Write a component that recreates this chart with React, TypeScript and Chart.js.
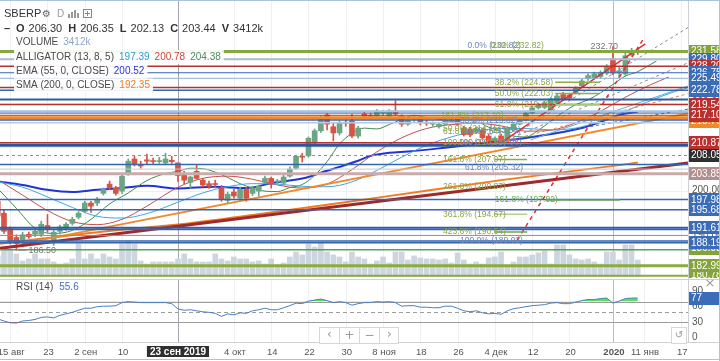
import React, { useEffect, useRef } from "react";
import { Chart, registerables } from "chart.js";

Chart.register(...registerables);

const FONT = '"Liberation Sans Narrow", "Liberation Sans", Arial, sans-serif';

/* ---------------- time axis ---------------- */
const tickIdx = [0, 6, 12, 18, 36, 42, 48, 54, 60, 66, 72, 78, 84, 90, 97, 102, 108];
const tickLabels = ["15 авг", "23", "2 сен", "10", "4 окт", "14", "22", "30", "8 ноя", "18", "26", "4 дек", "12", "20", "2020", "11 янв", "17"];
const crossIdx = 27;
const crossDate = "23 сен 2019";
const crossPrice = 208.05;
const yearIdx = 97;

/* ---------------- candles: bar -2 .. 101 ---------------- */
const opens = [
  197.6, 194.9, 191.4, 189.4, 188.9, 190.1, 190.1, 190.1, 192.1, 188.9,
  190.8, 191.5, 192.6, 194.0, 195.3, 197.2, 197.2, 199.4, 201.5, 200.6,
  199.9, 204.0, 207.2, 206.0, 207.0, 206.7, 206.6, 206.3, 206.9, 206.3,
  203.8, 201.9, 204.4, 202.4, 201.6, 201.5, 200.6, 197.8, 199.7, 198.3,
  200.3, 199.4, 199.9, 201.9, 202.8, 202.0, 201.7, 203.3, 205.1, 207.8,
  207.9, 210.8, 213.6, 217.2, 214.5, 213.1, 215.4, 215.8, 212.4, 217.4,
  217.0, 216.9, 217.6, 216.9, 218.1, 216.9, 215.1, 216.2, 216.5, 215.4,
  215.1, 214.5, 215.1, 215.8, 216.3, 214.2, 214.0, 213.3, 213.8, 212.4,
  211.3, 212.4, 211.5, 213.8, 215.1, 216.0, 217.6, 218.8, 218.9, 218.3,
  219.9, 221.8, 221.7, 222.2, 223.8, 225.4, 225.6, 225.9, 226.7, 229.9,
  226.7, 226.5, 230.8, 231.6,
];
const highs = [
  199.0, 195.8, 191.8, 190.0, 190.6, 190.6, 191.3, 193.1, 194.6, 191.0,
  192.2, 192.8, 194.0, 195.3, 197.6, 197.6, 198.5, 200.6, 202.2, 201.0,
  203.5, 207.2, 207.8, 206.7, 208.3, 207.4, 207.6, 208.5, 207.8, 206.35,
  204.4, 203.3, 205.8, 202.8, 202.2, 202.4, 201.2, 199.7, 200.3, 200.8,
  200.8, 201.0, 201.3, 203.3, 203.1, 202.6, 203.5, 205.4, 208.1, 208.5,
  212.2, 214.0, 217.0, 217.5, 215.4, 215.8, 216.0, 217.3, 214.6, 217.8,
  217.6, 218.4, 218.2, 218.4, 220.4, 217.2, 216.3, 216.9, 216.9, 216.0,
  215.6, 215.4, 216.3, 216.3, 216.7, 214.6, 214.4, 214.4, 214.2, 212.9,
  212.2, 212.9, 214.5, 215.4, 216.5, 218.0, 219.2, 219.9, 220.3, 221.1,
  221.9, 222.3, 222.1, 223.6, 225.3, 226.5, 226.9, 227.2, 228.6, 232.7,
  228.0, 231.5, 232.3, 232.5,
];
const lows = [
  193.8, 190.3, 187.9, 186.5, 187.2, 189.2, 189.6, 189.6, 190.6, 187.6,
  190.2, 191.0, 192.2, 193.6, 195.0, 195.1, 196.6, 199.0, 200.2, 199.0,
  199.4, 203.5, 205.6, 205.1, 206.0, 206.0, 206.2, 206.0, 206.2, 202.13,
  201.6, 200.6, 202.6, 200.9, 200.5, 200.6, 197.6, 197.2, 198.3, 197.8,
  197.6, 198.9, 198.7, 201.6, 200.6, 201.6, 201.3, 203.1, 204.9, 206.5,
  207.6, 210.4, 213.2, 213.8, 211.3, 212.6, 214.6, 212.0, 211.9, 216.3,
  216.3, 216.5, 217.0, 216.5, 217.0, 214.6, 214.8, 215.7, 214.9, 214.8,
  214.6, 214.2, 214.9, 215.4, 214.8, 212.4, 212.2, 212.9, 211.7, 211.1,
  211.0, 210.98, 211.2, 213.5, 214.9, 215.8, 217.4, 218.5, 218.6, 218.0,
  219.6, 220.4, 220.6, 221.9, 223.5, 225.0, 225.3, 225.5, 226.3, 226.3,
  225.6, 226.0, 230.5, 230.9,
];
const closes = [
  194.3, 190.8, 188.5, 188.0, 190.0, 189.6, 190.8, 192.4, 191.2, 190.6,
  191.8, 192.4, 193.5, 194.9, 197.2, 196.5, 198.1, 200.3, 200.6, 199.4,
  203.3, 206.7, 206.0, 205.6, 206.7, 206.6, 206.7, 207.2, 206.6, 203.44,
  202.4, 203.1, 202.8, 201.3, 201.0, 201.4, 198.1, 199.2, 198.8, 200.3,
  198.3, 200.6, 201.0, 202.8, 201.5, 202.2, 203.1, 204.9, 207.8, 207.6,
  211.9, 213.6, 216.5, 215.1, 213.1, 215.4, 215.3, 212.4, 214.2, 216.9,
  216.9, 218.1, 217.7, 218.1, 217.4, 215.1, 216.0, 216.3, 215.4, 215.3,
  215.2, 215.1, 216.0, 215.8, 215.1, 212.7, 212.7, 214.0, 212.0, 211.3,
  211.9, 211.1, 214.2, 215.1, 216.0, 217.6, 218.8, 219.5, 219.9, 220.8,
  221.5, 220.8, 221.0, 223.3, 224.9, 226.1, 226.5, 226.7, 228.1, 226.7,
  227.2, 230.6, 231.5, 231.58,
];
const volumesK = [
  3990, 5700, 5130, 4370, 3040, 3420, 4370, 3420, 3420, 2850,
  2470, 2660, 3420, 6270, 3420, 4370, 3420, 4370, 3800, 3420,
  6270, 6840, 6270, 3040, 2470, 2850, 2850, 2850, 2850, 3412,
  4370, 3420, 2850, 2850, 2850, 4370, 3420, 3040, 3800, 3420,
  3420, 2850, 3040, 2470, 3420, 2280, 2660, 3800, 4750, 4180,
  6270, 5700, 6650, 4750, 4180, 3800, 2850, 4750, 3800, 3420,
  2470, 3040, 3800, 2660, 4750, 4750, 3230, 3990, 3610, 3420,
  3420, 3230, 3420, 2660, 4560, 3230, 2470, 2850, 2470, 3610,
  3800, 4750, 1900, 2850, 3800, 3800, 4180, 4560, 4940, 2470,
  6080, 6080, 4180, 3420, 3230, 3420, 2850, 2470, 4750, 4750,
  3230, 6080, 6080, 3230,
];
const rsiValues = [
  36, 32, 28.5, 28, 32, 33, 35, 39, 40, 38,
  43, 46, 49, 53, 57, 57, 60, 61, 61, 62,
  68, 70, 69, 68, 68, 68, 68, 68, 66, 55.6,
  53, 54, 52, 50, 49, 47, 41, 46, 44, 48,
  47, 52, 54, 57, 54, 54, 58, 62, 67, 66,
  71, 73, 75, 72, 68, 70, 68, 63, 66, 68,
  68, 70, 69, 70, 68, 61, 62, 62, 59, 59,
  58, 58, 61, 61, 57, 52, 50, 52, 48, 46,
  47, 45, 52, 56, 58, 60, 62, 63, 64, 67,
  68, 66, 66, 69, 72, 74, 74, 76, 77, 67,
  71, 76, 77, 77,
];
const firstBar = -2;

/* ---------------- indicators ---------------- */
const jawX = [-2, 2, 6, 10, 14, 18, 22, 27, 31, 35, 39, 43, 47, 51, 55, 59, 63, 67, 71, 75, 79, 83, 87, 91, 95, 99, 103, 107, 109];
const jawY = [202.0, 200.8, 198.6, 196.2, 194.2, 193.8, 194.8, 197.39, 199.5, 200.9, 201.6, 201.5, 201.0, 200.9, 202.0, 204.6, 207.6, 210.3, 212.2, 213.5, 214.1, 214.1, 213.8, 214.2, 215.8, 218.0, 220.4, 222.5, 223.3];
const teethX = [-2, 2, 6, 10, 14, 18, 22, 27, 31, 35, 39, 43, 47, 51, 55, 59, 63, 67, 71, 75, 79, 83, 87, 91, 95, 99, 103, 106];
const teethY = [202.5, 199.0, 195.5, 193.0, 192.3, 193.5, 196.5, 200.78, 202.8, 203.3, 202.6, 201.3, 200.6, 201.5, 204.8, 208.8, 212.0, 214.1, 215.0, 215.3, 214.7, 213.5, 213.7, 215.4, 218.0, 221.2, 224.0, 225.8];
const lipsX = [-2, 1, 4, 7, 10, 13, 16, 19, 22, 25, 27, 29, 31, 33, 35, 37, 39, 41, 43, 45, 47, 49, 51, 53, 55, 57, 59, 61, 63, 65, 67, 69, 71, 73, 75, 77, 79, 81, 83, 85, 87, 89, 91, 93, 95, 97, 99, 101, 103, 104];
const lipsY = [200.5, 196.0, 191.5, 190.3, 191.0, 193.5, 197.0, 199.5, 202.3, 203.9, 204.38, 205.1, 205.0, 204.2, 203.0, 201.6, 200.6, 199.9, 199.8, 200.7, 201.4, 203.5, 206.6, 210.6, 213.0, 214.2, 214.0, 215.0, 216.2, 217.1, 216.6, 216.2, 215.7, 215.4, 215.6, 214.4, 213.5, 212.4, 212.2, 213.7, 215.8, 217.8, 219.5, 220.6, 222.2, 224.1, 226.0, 227.0, 228.6, 229.4];
const emaX = [-2, 2, 6, 10, 14, 18, 22, 27, 33, 38, 42, 45, 48, 50, 53, 56, 58, 61, 64, 69, 76, 84, 92, 95, 98, 101];
const emaY = [202.1, 201.3, 200.2, 199.7, 200.2, 200.6, 201.1, 200.52, 200.9, 200.6, 201.7, 202.3, 203.1, 204.1, 205.4, 206.8, 207.9, 208.6, 208.9, 209.6, 210.8, 212.2, 214.2, 215.6, 217.2, 217.9];
const smaX = [-2, 1, 14, 27, 39, 60, 79, 98, 101];
const smaY = [187.9, 188.4, 190.6, 192.35, 194.5, 198.6, 202.4, 205.8, 206.4];

/* ---------------- drawings ---------------- */
const trendX1 = [-1.64, 2, 79.1, 81.6, 79.1, 79.1, 79.1, 83.7, 79.1];
const trendY1 = [186.94, 188.0, 210.98, 188.8, 210.98, 210.98, 210.98, 211.5, 210.98];
const trendX2 = [109.08, 109.08, 102.2, 101.8, 109.08, 109.08, 109.08, 109.08, 109.08];
const trendY2 = [206.28, 217.5, 233.3, 234.2, 237.0, 229.0, 222.0, 223.75, 218.5];
const trendColor = ["#9e2a2b", "#f08a2c", "#e03030", "#e03030", "#8a8a8a", "#8a8a8a", "#e8843a", "#5aaee6", "#3461b0"];
const trendWidth = [3, 2, 1.5, 1.5, 1, 1, 1, 1, 1];
const trendDash = [[], [], [], [4, 4], [3, 3], [3, 3], [3, 3], [], [3, 3]];

const levelPrices = [231.58, 229.8, 228.2, 226.75, 225.49, 223.42, 222.78, 220.7, 219.54, 218.0, 217.6, 217.1, 216.55, 216.06, 215.4, 210.87, 210.3, 205.97, 204.9, 203.85, 197.98, 195.68, 191.61, 191.2, 189.86, 188.6, 188.19, 186.6, 182.99, 180.7];
const levelColors = ["#86a83e", "#aabbd4", "#b3312e", "#3465b0", "#8fb0d8", "#b3312e", "#3465b0", "#2d5ca8", "#b3312e", "#9fc6e7", "#3465b0", "#b3312e", "#f0882a", "#3465b0", "#b8c9dd", "#b3312e", "#2a569f", "#3465b0", "#c5cbd1", "#c9abab", "#3465b0", "#3465b0", "#2d5ca8", "#3465b0", "#e06b6b", "#3465b0", "#3465b0", "#5aa05a", "#8aab3e", "#8aab3e"];
const levelWidths = [3, 2, 1.5, 1, 1, 1.5, 1.5, 2, 1.5, 2, 1, 1, 3, 1.5, 1.5, 1.5, 3, 1.5, 1, 3, 1.5, 1.5, 2, 1.5, 1, 1.5, 1.5, 1.5, 3, 2];

const fibTexts = ["0.0% (232.82)", "0.0% (232.82)", "38.2% (224.58)", "50.0% (222.03)", "61.8% (219.49)", "161.8% (217.10)", "38.2% (215.82)", "50.0% (214.15)", "61.8% (213.54)", "61.8% (213.54)", "100.0% (210.98)", "100.0% (210.98)", "161.8% (207.07)", "61.8% (205.32)", "261.8% (200.87)", "161.8% (197.92)", "361.8% (194.67)", "423.6% (190.64)", "100.0% (189.92)"];
const fibStart = [73.6, 77.3, 78.0, 78.0, 78.0, 69.3, 72.4, 69.65, 69.65, 72.8, 69.65, 72.2, 69.65, 73.2, 69.65, 78.0, 69.65, 69.65, 72.4];
const fibPrice = [232.82, 232.82, 224.58, 222.03, 219.49, 217.1, 215.82, 214.15, 213.3, 213.54, 210.98, 210.98, 207.07, 205.32, 200.87, 197.92, 194.67, 190.64, 188.6];
const fibTone = ["b", "o", "o", "o", "o", "o", "b", "o", "o", "b", "o", "b", "o", "b", "o", "g", "o", "o", "b"];
const fibSegFrom = [87.7, 87.7, 87.7, 78.0, 78.0, 78.0, 86.1];
const fibSegTo = [94.9, 94.9, 94.9, 83.2, 83.2, 83.2, 98.1];
const fibSegPrice = [224.58, 222.03, 219.49, 207.07, 194.67, 190.64, 197.92];
const fibSegColor = ["#8aae48", "#8aae48", "#a9c57a", "#8aae48", "#b8cf8e", "#6aa84f", "#6aa84f"];

/* right-axis price labels (drawing order) */
const axisLabelPrices = [231.58, 229.8, 228.2, 226.75, 225.49, 222.78, 219.54, 215.7, 217.1, 210.87, 203.85, 197.98, 195.68, 186.98, 191.61, 188.19, 180.78, 182.99];
const axisLabelColors = ["#84a33b", "#3b6cb7", "#b8312f", "#3b6cb7", "#3b6cb7", "#3b6cb7", "#b8312f", "#ee8a2b", "#b8312f", "#b8312f", "#b38e8e", "#3b6cb7", "#3b6cb7", "#84a33b", "#3b6cb7", "#3b6cb7", "#84a33b", "#84a33b"];
const priceTicks = [190, 200, 210, 220, 230];
const rsiTicks = [0, 30, 60, 90];
const rsiLast = 77;

/* header texts */
const symbol = "SBERP";
const ohlcKeys = ["O", "H", "L", "C", "V"];
const ohlcVals = ["206.30", "206.35", "202.13", "203.44", "3412k"];
const legendNames = ["VOLUME", "ALLIGATOR (13, 8, 5)", "EMA (55, 0, CLOSE)", "SMA (200, 0, CLOSE)"];
const legendValues = [["3412k"], ["197.39", "200.78", "204.38"], ["200.52"], ["192.35"]];
const legendColors = [["#8ea6c6"], ["#2b9ad6", "#c9473b", "#4d8a5c"], ["#2536e0"], ["#f07a25"]];
const rsiName = "RSI (14)";
const rsiValueText = "55.6";

/* scale ranges */
const X_MIN = -1.64, X_MAX = 109.08;
const Y_MIN = 180.43, Y_MAX = 243.25;
const VOL_MAX = 52500;
const RSI_MIN = -9.2, RSI_MAX = 112.35;

const UP = "#6ba583";
const DOWN = "#d75442";

function seg(ctx: any, x1: number, y1: number, x2: number, y2: number) {
  ctx.beginPath();
  ctx.moveTo(x1, y1);
  ctx.lineTo(x2, y2);
  ctx.stroke();
}

function lineDs(xs: number[], ys: number[], color: string, width: number, curve: boolean, extra: any = {}) {
  return {
    type: "line",
    data: xs.map((x, k) => ({ x, y: ys[k] })),
    borderColor: color,
    borderWidth: width,
    pointRadius: 0,
    fill: false,
    tension: curve ? 0.4 : 0,
    cubicInterpolationMode: curve ? "monotone" : "default",
    order: 10,
    ...extra,
  };
}

function axisBox(ctx: any, yc: number, text: string, color: string) {
  ctx.fillStyle = color;
  ctx.fillRect(689, Math.round(yc - 6.5), 30, 13);
  ctx.fillStyle = "#ffffff";
  ctx.font = "10px " + FONT;
  ctx.textAlign = "left";
  ctx.textBaseline = "middle";
  ctx.fillText(text, 691, Math.round(yc) + 0.5);
}

const mainDecor = {
  id: "mainDecor",
  beforeDatasetsDraw(chart: any) {
    const { ctx, chartArea: a, scales } = chart;
    const x = scales.x, y = scales.y;
    ctx.save();
    ctx.lineWidth = 1;
    ctx.strokeStyle = "#edf0f3";
    tickIdx.forEach((t) => {
      const p = Math.round(x.getPixelForValue(t)) + 0.5;
      seg(ctx, p, a.top, p, a.bottom);
    });
    priceTicks.forEach((v) => {
      const p = Math.round(y.getPixelForValue(v)) + 0.5;
      seg(ctx, a.left, p, a.right, p);
    });
    ctx.strokeStyle = "#b9bdc2";
    let p = Math.round(x.getPixelForValue(yearIdx)) + 0.5;
    seg(ctx, p, a.top, p, a.bottom);
    ctx.strokeStyle = "#a3a7ad";
    p = Math.round(x.getPixelForValue(crossIdx)) + 0.5;
    seg(ctx, p, a.top, p, a.bottom);
    ctx.restore();
  },
  afterDatasetsDraw(chart: any) {
    const { ctx, chartArea: a, scales } = chart;
    const x = scales.x, y = scales.y;
    ctx.save();
    ctx.beginPath();
    ctx.rect(a.left, a.top, a.right - a.left, a.bottom - a.top);
    ctx.clip();
    // horizontal levels
    levelPrices.forEach((pr, k) => {
      ctx.strokeStyle = levelColors[k];
      ctx.lineWidth = levelWidths[k];
      const py = y.getPixelForValue(pr);
      seg(ctx, a.left, py, a.right, py);
    });
    // crosshair horizontal
    ctx.strokeStyle = "#8d9196";
    ctx.lineWidth = 1;
    ctx.setLineDash([3, 3]);
    const cy = Math.round(y.getPixelForValue(crossPrice)) + 0.5;
    seg(ctx, a.left, cy, a.right, cy);
    ctx.setLineDash([]);
    // fib segments
    fibSegPrice.forEach((pr, k) => {
      ctx.strokeStyle = fibSegColor[k];
      ctx.lineWidth = 1.5;
      const py = y.getPixelForValue(pr);
      seg(ctx, x.getPixelForValue(fibSegFrom[k]), py, x.getPixelForValue(fibSegTo[k]), py);
    });
    // fib texts
    ctx.font = "8.5px " + FONT;
    ctx.textBaseline = "middle";
    ctx.textAlign = "left";
    fibTexts.forEach((s, k) => {
      const tone = fibTone[k];
      ctx.fillStyle = tone === "b" ? "#6a86b9" : tone === "g" ? "#6aa84f" : "#8ba545";
      ctx.fillText(s, x.getPixelForValue(fibStart[k]), y.getPixelForValue(fibPrice[k]));
    });
    // high / low markers
    const lowIdx = lows.indexOf(Math.min(...lows));
    const hiIdx = highs.indexOf(Math.max(...highs));
    const lx = x.getPixelForValue(lowIdx + firstBar);
    const ly = y.getPixelForValue(lows[lowIdx]);
    ctx.strokeStyle = "#8a8a8a";
    ctx.lineWidth = 1;
    seg(ctx, lx + 2, ly, lx + 10, ly);
    ctx.fillStyle = "#777";
    ctx.font = "9px " + FONT;
    ctx.fillText(lows[lowIdx].toFixed(2), lx + 12, ly + 0.5);
    const hx = x.getPixelForValue(hiIdx + firstBar);
    const hy = y.getPixelForValue(highs[hiIdx]);
    ctx.textAlign = "right";
    ctx.fillText(highs[hiIdx].toFixed(2), hx + 5, hy);
    ctx.restore();
  },
  afterDraw(chart: any) {
    const { ctx, chartArea: a, scales, height } = chart;
    const y = scales.y;
    ctx.save();
    // right axis
    ctx.fillStyle = "#ffffff";
    ctx.fillRect(a.right, 0, 720 - a.right, height);
    ctx.strokeStyle = "#cdd1d6";
    ctx.lineWidth = 1;
    seg(ctx, a.right + 0.5, 0, a.right + 0.5, height);
    ctx.font = "10px " + FONT;
    ctx.fillStyle = "#555";
    ctx.textBaseline = "middle";
    ctx.textAlign = "left";
    priceTicks.forEach((v) => ctx.fillText(v.toFixed(2), 692, y.getPixelForValue(v)));
    axisLabelPrices.forEach((pr, k) => axisBox(ctx, y.getPixelForValue(pr), pr.toFixed(2), axisLabelColors[k]));
    axisBox(ctx, y.getPixelForValue(crossPrice), crossPrice.toFixed(2), "#2f2f2f");

    // header row 1
    ctx.textAlign = "left";
    ctx.fillStyle = "#333";
    ctx.font = "11px " + FONT;
    ctx.fillText(symbol, 4, 14);
    ctx.fillStyle = "#666";
    ctx.font = "10px DejaVu Sans";
    ctx.fillText("⚙", 42, 14);
    ctx.fillStyle = "#9a9a9a";
    ctx.font = "10px " + FONT;
    ctx.fillText("D", 57, 14.5);
    ctx.fillStyle = "#999";
    [[68, 4], [71, 6], [74, 8], [77, 5]].forEach(([bx, bh]) => ctx.fillRect(bx, 18 - bh, 2, bh));
    ctx.strokeStyle = "#888";
    ctx.strokeRect(83.5, 9.5, 8, 8);
    seg(ctx, 87.5, 11, 87.5, 16);
    seg(ctx, 85, 13.5, 90, 13.5);

    // header row 2
    let cx = 4;
    ctx.fillStyle = "#333";
    ctx.font = "bold 11px " + FONT;
    ctx.fillText("–", cx, 28.5);
    cx = 16;
    ohlcKeys.forEach((kk, k) => {
      ctx.font = "bold 11px " + FONT;
      ctx.fillText(kk, cx, 28.5);
      cx += ctx.measureText(kk).width + 4;
      ctx.font = "11px " + FONT;
      ctx.fillText(ohlcVals[k], cx, 28.5);
      cx += ctx.measureText(ohlcVals[k]).width + 6;
    });

    // legend rows
    const rowY = [42.5, 57, 71.5, 85.5];
    legendNames.forEach((name, r) => {
      ctx.font = "10px " + FONT;
      let w = ctx.measureText(name).width;
      legendValues[r].forEach((v) => (w += 5 + ctx.measureText(v).width));
      ctx.fillStyle = "rgba(255,255,255,0.92)";
      ctx.fillRect(14, rowY[r] - 7, w + 5, 14);
      ctx.fillStyle = "#4a4a4a";
      ctx.fillText(name, 16, rowY[r]);
      let lx = 16 + ctx.measureText(name).width + 5;
      legendValues[r].forEach((v, j) => {
        ctx.fillStyle = legendColors[r][j];
        ctx.fillText(v, lx, rowY[r]);
        lx += ctx.measureText(v).width + 5;
      });
    });

    // frame
    ctx.strokeStyle = "#aac4df";
    ctx.lineWidth = 1;
    seg(ctx, 0, 0.5, 720, 0.5);
    seg(ctx, 719.5, 0, 719.5, height);
    ctx.restore();
  },
};

const rsiDecor = {
  id: "rsiDecor",
  beforeDatasetsDraw(chart: any) {
    const { ctx, chartArea: a, scales } = chart;
    const x = scales.x, y = scales.y;
    ctx.save();
    ctx.lineWidth = 1;
    ctx.strokeStyle = "#edf0f3";
    tickIdx.forEach((t) => {
      const p = Math.round(x.getPixelForValue(t)) + 0.5;
      seg(ctx, p, a.top, p, a.bottom);
    });
    ctx.strokeStyle = "#b9bdc2";
    let p = Math.round(x.getPixelForValue(yearIdx)) + 0.5;
    seg(ctx, p, a.top, p, a.bottom);
    ctx.strokeStyle = "#a3a7ad";
    p = Math.round(x.getPixelForValue(crossIdx)) + 0.5;
    seg(ctx, p, a.top, p, a.bottom);
    ctx.strokeStyle = "#9c9c9c";
    [70, 30].forEach((v) => {
      const py = Math.round(y.getPixelForValue(v)) + 0.5;
      seg(ctx, a.left, py, a.right, py);
    });
    ctx.setLineDash([4, 3]);
    const py = Math.round(y.getPixelForValue(50)) + 0.5;
    seg(ctx, a.left, py, a.right, py);
    ctx.setLineDash([]);
    ctx.restore();
  },
  afterDraw(chart: any) {
    const { ctx, chartArea: a, scales, height } = chart;
    const x = scales.x, y = scales.y;
    ctx.save();
    ctx.fillStyle = "#ffffff";
    ctx.fillRect(a.right, 0, 720 - a.right, height);
    ctx.fillRect(0, a.bottom, 720, height - a.bottom);
    ctx.strokeStyle = "#cdd1d6";
    ctx.lineWidth = 1;
    seg(ctx, a.right + 0.5, 0, a.right + 0.5, a.bottom);
    seg(ctx, 0, 1.5, 720, 1.5);
    seg(ctx, 0, a.bottom + 0.5, 720, a.bottom + 0.5);
    // axis ticks
    ctx.font = "10px " + FONT;
    ctx.fillStyle = "#555";
    ctx.textBaseline = "middle";
    ctx.textAlign = "left";
    rsiTicks.forEach((v) => ctx.fillText(String(v), 692, y.getPixelForValue(v)));
    axisBox(ctx, y.getPixelForValue(rsiLast), String(rsiLast), "#3b6cb7");
    ctx.fillStyle = "#9a9a9a";
    ctx.font = "13px DejaVu Sans";
    ctx.textAlign = "center";
    ctx.fillText("×", 710, 6);
    // header
    ctx.textAlign = "left";
    ctx.font = "10px " + FONT;
    ctx.fillStyle = "#4a4a4a";
    ctx.fillText(rsiName, 16, 9.5);
    ctx.fillStyle = "#3d6fc0";
    ctx.fillText(rsiValueText, 16 + ctx.measureText(rsiName).width + 6, 9.5);
    // zoom buttons
    ctx.fillStyle = "rgba(255,255,255,0.95)";
    ctx.strokeStyle = "#d3d8de";
    [[319.5, 40], [359.5, 39], [671.5, 15]].forEach(([bx, bw]) => {
      ctx.fillRect(bx, 49.5, bw, 16);
      ctx.strokeRect(bx, 49.5, bw, 16);
    });
    seg(ctx, 339.5, 49.5, 339.5, 65.5);
    seg(ctx, 379.5, 49.5, 379.5, 65.5);
    ctx.fillStyle = "#9a9a9a";
    ctx.textAlign = "center";
    ctx.font = "12px DejaVu Sans";
    ctx.fillText("‹", 329.5, 57);
    ctx.fillText("+", 349.5, 57.5);
    ctx.fillText("−", 369.5, 57.5);
    ctx.fillText("›", 389.5, 57);
    ctx.font = "10px DejaVu Sans";
    ctx.fillText("↺", 679, 57.5);
    // time labels
    ctx.fillStyle = "#555";
    tickIdx.forEach((t, k) => {
      ctx.font = (tickLabels[k] === "2020" ? "bold " : "") + "9.5px " + FONT;
      ctx.fillText(tickLabels[k], x.getPixelForValue(t) + 1, 74);
    });
    // crosshair date box
    const cxp = x.getPixelForValue(crossIdx);
    ctx.font = "bold 10px " + FONT;
    const w = ctx.measureText(crossDate).width + 6;
    ctx.fillStyle = "#2f2f2f";
    ctx.fillRect(cxp - w / 2, 68, w, 11);
    ctx.fillStyle = "#fff";
    ctx.fillText(crossDate, cxp, 73.8);
    // frame
    ctx.strokeStyle = "#aac4df";
    seg(ctx, 719.5, 0, 719.5, height);
    seg(ctx, 0, height - 1.5, 720, height - 1.5);
    ctx.restore();
  },
};

function buildMain(): any {
  const barX = opens.map((_, k) => k + firstBar);
  const colors = closes.map((c, k) => (c >= opens[k] ? UP : DOWN));
  const datasets: any[] = [
    {
      type: "bar",
      yAxisID: "yv",
      data: barX.map((x, k) => ({ x, y: volumesK[k] })),
      backgroundColor: "#cdd5de",
      barThickness: 5,
      grouped: false,
      order: 30,
    },
    lineDs(smaX, smaY, "#f27b21", 2, true),
    lineDs(jawX, jawY, "#3fa6e0", 1, true),
    lineDs(teethX, teethY, "#c0504d", 1, true),
    lineDs(lipsX, lipsY, "#3f8a4f", 1, true),
    lineDs(emaX, emaY, "#1f33d6", 2, true),
    {
      type: "bar",
      data: barX.map((x, k) => ({ x, y: [lows[k], highs[k]] })),
      backgroundColor: colors,
      barThickness: 1,
      grouped: false,
      order: 2,
    },
    {
      type: "bar",
      data: barX.map((x, k) => ({ x, y: [opens[k], closes[k]] })),
      backgroundColor: colors,
      barThickness: 5,
      minBarLength: 1,
      grouped: false,
      order: 1,
    },
  ];
  trendX1.forEach((_, k) => {
    datasets.push(
      lineDs([trendX1[k], trendX2[k]], [trendY1[k], trendY2[k]], trendColor[k], trendWidth[k], false, {
        borderDash: trendDash[k],
        order: 0,
      })
    );
  });
  return {
    type: "bar",
    data: { datasets },
    options: {
      responsive: false,
      animation: false,
      events: [],
      layout: { padding: { left: 0, right: 32, top: 0, bottom: 1 } },
      plugins: { legend: { display: false }, tooltip: { enabled: false } },
      scales: {
        x: { type: "linear", min: X_MIN, max: X_MAX, display: false, offset: false },
        y: { type: "linear", min: Y_MIN, max: Y_MAX, display: false, beginAtZero: false },
        yv: { type: "linear", min: 0, max: VOL_MAX, display: false },
      },
    },
    plugins: [mainDecor],
  };
}

function buildRsi(): any {
  const pts = rsiValues.map((v, k) => ({ x: k + firstBar, y: v }));
  return {
    type: "line",
    data: {
      datasets: [
        {
          data: pts,
          borderColor: "#4a7fc1",
          borderWidth: 1,
          pointRadius: 0,
          tension: 0,
          fill: { target: { value: 70 }, above: "#5fdc5f", below: "rgba(0,0,0,0)" },
        },
        {
          data: pts,
          borderColor: "rgba(0,0,0,0)",
          borderWidth: 0,
          pointRadius: 0,
          tension: 0,
          fill: { target: { value: 30 }, above: "rgba(0,0,0,0)", below: "#e04848" },
        },
      ],
    },
    options: {
      responsive: false,
      animation: false,
      events: [],
      layout: { padding: { left: 0, right: 32, top: 2, bottom: 19 } },
      plugins: { legend: { display: false }, tooltip: { enabled: false } },
      scales: {
        x: { type: "linear", min: X_MIN, max: X_MAX, display: false, offset: false },
        y: { type: "linear", min: RSI_MIN, max: RSI_MAX, display: false },
      },
    },
    plugins: [rsiDecor],
  };
}

export default function App() {
  const mainRef = useRef<HTMLCanvasElement>(null);
  const rsiRef = useRef<HTMLCanvasElement>(null);
  useEffect(() => {
    document.body.style.margin = "0";
    const c1 = new Chart(mainRef.current as HTMLCanvasElement, buildMain());
    const c2 = new Chart(rsiRef.current as HTMLCanvasElement, buildRsi());
    return () => {
      c1.destroy();
      c2.destroy();
    };
  }, []);
  return (
    <div style={{ width: 720, height: 361, background: "#ffffff" }}>
      <canvas ref={mainRef} width={720} height={278} style={{ display: "block" }} />
      <canvas ref={rsiRef} width={720} height={83} style={{ display: "block" }} />
    </div>
  );
}
